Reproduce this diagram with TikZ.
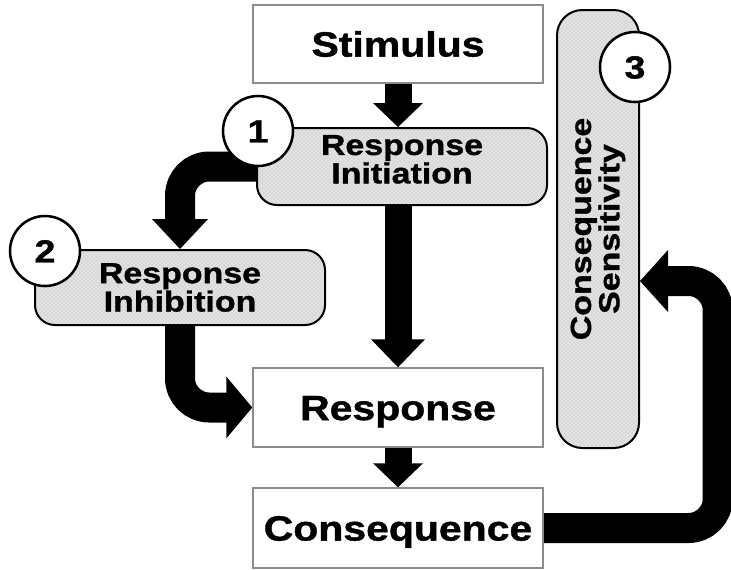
\documentclass[tikz,border=0pt]{standalone}
\usepackage{fontspec}
\newfontfamily\lbl{Liberation Sans}[FakeStretch=1.17,FakeBold=1.2]
\usetikzlibrary{calc,patterns}
\pgfdeclarelayer{bg}
\pgfsetlayers{bg,main}
\tikzset{
  sq/.style={draw=black!45, line width=1.1pt, fill=white, minimum width=217.5pt, inner sep=0pt,
    font=\lbl\bfseries\fontsize{26.25}{30}\selectfont, text height=18.8pt, text depth=0pt},
  rbox/.style={draw=black, line width=1.5pt, rounded corners=15pt, preaction={fill=gray!22},
    pattern=crosshatch dots, pattern color=gray!60, inner sep=0pt, align=center,
    font=\lbl\bfseries\fontsize{21.75}{18.75}\selectfont},
  num/.style={circle, draw=black, line width=1.9pt, fill=white, minimum size=52.5pt, inner sep=0pt,
    font=\lbl\bfseries\fontsize{24}{28}\selectfont, text height=17.2pt, text depth=0pt},
  shaft/.style={line width=20.25pt},
  bendshaft/.style={line width=22.5pt, rounded corners=22pt},
}
\begin{document}
\begin{tikzpicture}[x=0.75pt,y=-0.75pt]
\useasboundingbox (0,0) rectangle (731,569);
% boxes
\node[sq, minimum height=58.5pt] (stim) at (398,44) {Stimulus};
\node[sq, minimum height=59.25pt] (resp) at (398,407.5) {Response};
\node[sq, minimum height=60pt] (cons) at (398,528) {Consequence};
\node[rbox, minimum width=217.5pt, minimum height=57.75pt, text depth=11pt] (ri) at (402,166.5) {Response\\Initiation};
\node[rbox, minimum width=217.5pt, minimum height=56.25pt] (rih) at (180,287.5) {Response\\Inhibition};
\node[rbox, rounded corners=19pt, rotate=90, minimum width=328.5pt, minimum height=61.5pt] (cs) at (598,229) {Consequence\\Sensitivity};
% numbers
\node[num] (n1) at (258,131) {1};
\node[num] (n2) at (45,251) {2};
\node[num] (n3) at (635,67) {3};
% arrows
\begin{pgfonlayer}{bg}
\coordinate (t1) at (stim.south |- ri.north);
\draw[shaft] (stim.south) -- ($(t1)+(0,-23)$);
\fill (t1) -- ++(-25,-24) -- ++(50,0) -- cycle;
\coordinate (t2) at (resp.north);
\draw[shaft] (resp.north |- ri.south) -- ($(t2)+(0,-27)$);
\fill (t2) -- ++(-27,-28) -- ++(54,0) -- cycle;
\coordinate (t3) at (cons.north);
\draw[shaft] (resp.south) -- ($(t3)+(0,-23)$);
\fill (t3) -- ++(-25,-24) -- ++(50,0) -- cycle;
\coordinate (tA) at (rih.north);
\draw[bendshaft] (ri.west) -| ($(tA)+(0,-29)$);
\fill (tA) -- ++(-28,-30) -- ++(56,0) -- cycle;
\coordinate (tB) at (resp.west);
\draw[bendshaft] (rih.south) |- ($(tB)+(-25,0)$);
\fill (tB) -- ++(-26,-31) -- ++(0,62) -- cycle;
\coordinate (tC) at ($(cs.south)+(0,52)$);
\draw[bendshaft] (cons.east) -- ++(174,0) |- ($(tC)+(27,0)$);
\fill (tC) -- ++(28,-31) -- ++(0,62) -- cycle;
\end{pgfonlayer}
\end{tikzpicture}
\end{document}
